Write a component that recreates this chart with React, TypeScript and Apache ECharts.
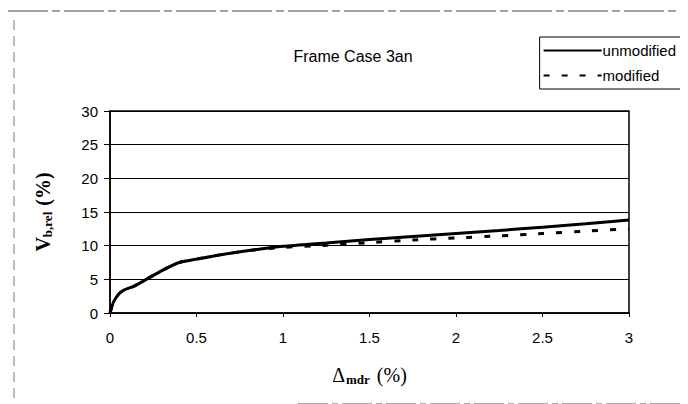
import React, { useEffect, useRef } from "react";
import * as echarts from "echarts";

// Roof drift ratio Δmdr (%) and relative base shear (%) shared by both runs up to ~0.85 %
const driftShared: number[] = [0, 0.02, 0.05, 0.08, 0.14, 0.21, 0.3, 0.4, 0.5, 0.65, 0.84];
const shearShared: number[] = [0, 1.6, 2.8, 3.4, 4.0, 5.0, 6.3, 7.5, 8.0, 8.7, 9.4];

// Beyond that the two runs separate
const driftTail: number[] = [1.0, 1.25, 1.5, 1.75, 2.0, 2.25, 2.5, 2.75, 3.0];
const unmodifiedTail: number[] = [9.9, 10.4, 10.9, 11.35, 11.8, 12.25, 12.75, 13.25, 13.8];
const modifiedTail: number[] = [9.75, 10.05, 10.45, 10.85, 11.15, 11.45, 11.8, 12.15, 12.5];

const xTicks: number[] = [0, 0.5, 1, 1.5, 2, 2.5, 3];
const yTicks: number[] = [0, 5, 10, 15, 20, 25, 30];

const pairs = (xs: number[], ys: number[]) => xs.map((x, i) => [x, ys[i]]);

export default function App() {
  const ref = useRef<HTMLDivElement>(null);

  useEffect(() => {
    if (!ref.current) return;
    const chart = echarts.init(ref.current, null, { renderer: "svg" });
    const sans = "Liberation Sans, Arial, sans-serif";
    const serif = "Liberation Serif, Times New Roman, serif";

    const unmodified = [...pairs(driftShared, shearShared), ...pairs(driftTail, unmodifiedTail)];
    const modified = [...pairs(driftShared, shearShared), ...pairs(driftTail, modifiedTail)];

    chart.setOption({
      animation: false,
      backgroundColor: "#fff",
      title: {
        text: "Frame Case 3an",
        left: 340,
        top: 35,
        textAlign: "center",
        textStyle: { fontFamily: sans, fontSize: 16, fontWeight: "normal", color: "#000" },
      },
      legend: {
        orient: "vertical",
        right: 14,
        top: 29,
        backgroundColor: "#fff",
        borderColor: "#000",
        borderWidth: 1,
        padding: [6, 6, 6, 3],
        itemGap: 10,
        itemWidth: 58,
        itemHeight: 14,
        itemStyle: { opacity: 0 },
        textStyle: { fontFamily: sans, fontSize: 15, lineHeight: 15, color: "#000", padding: [0, 0, 0, -4] },
        data: ["unmodified", "modified"],
      },
      grid: { left: 102, right: 67, top: 103, bottom: 99, show: true, borderColor: "#000", borderWidth: 1.5 },
      xAxis: {
        type: "value",
        min: 0,
        max: 3,
        interval: 0.5,
        name: "{d|Δ}{s|mdr}{p| (%)}",
        nameLocation: "middle",
        nameGap: 51,
        nameTextStyle: {
          rich: {
            d: { fontFamily: serif, fontSize: 20, color: "#000" },
            s: { fontFamily: serif, fontSize: 13, fontWeight: "bold", color: "#000", padding: [9, 2, 0, 1] },
            p: { fontFamily: serif, fontSize: 20, color: "#000" },
          },
        },
        axisLine: { show: true, lineStyle: { color: "#000", width: 1.5 } },
        axisTick: { show: true, inside: false, length: 4, lineStyle: { color: "#000" } },
        splitLine: { show: false },
        axisLabel: {
          fontFamily: sans,
          fontSize: 15,
          color: "#000",
          margin: 17,
          formatter: (v: number) => (xTicks.includes(v) ? String(v) : ""),
        },
      },
      yAxis: {
        type: "value",
        min: 0,
        max: 30,
        interval: 5,
        name: "{v|V}{s|b,rel}{p| (%)}",
        nameLocation: "middle",
        nameRotate: 90,
        nameGap: 56,
        nameTextStyle: {
          rich: {
            v: { fontFamily: serif, fontSize: 20, fontWeight: "bold", color: "#000" },
            s: { fontFamily: serif, fontSize: 13, fontWeight: "bold", color: "#000", padding: [9, 1, 0, 0] },
            p: { fontFamily: serif, fontSize: 20, fontWeight: "bold", color: "#000" },
          },
        },
        axisLine: { show: true, lineStyle: { color: "#000", width: 1.5 } },
        axisTick: { show: true, inside: false, length: 6, lineStyle: { color: "#000" } },
        splitLine: { show: true, lineStyle: { color: "#000", width: 1 } },
        axisLabel: {
          fontFamily: sans,
          fontSize: 15,
          color: "#000",
          margin: 12,
          formatter: (v: number) => (yTicks.includes(v) ? String(v) : ""),
        },
      },
      series: [
        {
          name: "unmodified",
          type: "line",
          data: unmodified,
          symbol: "none",
          smooth: 0.2,
          lineStyle: { color: "#000", width: 3 },
          itemStyle: { color: "#000" },
          z: 3,
        },
        {
          name: "modified",
          type: "line",
          data: modified,
          symbol: "none",
          smooth: 0.2,
          lineStyle: { color: "#000", width: 3, type: [6, 12] },
          itemStyle: { color: "#000" },
          z: 2,
        },
      ],
      graphic: [
        {
          type: "line",
          shape: { x1: 0, y1: 3, x2: 688, y2: 3 },
          style: { stroke: "#444", lineWidth: 1.2, lineDash: [40, 4, 8, 4] },
          silent: true,
        },
        {
          type: "line",
          shape: { x1: 6, y1: 12, x2: 6, y2: 400 },
          style: { stroke: "#777", lineWidth: 1, lineDash: [10, 6] },
          silent: true,
        },
        {
          type: "line",
          shape: { x1: 290, y1: 396, x2: 688, y2: 396 },
          style: { stroke: "#555", lineWidth: 1, lineDash: [30, 4, 6, 4] },
          silent: true,
        },
      ],
    });

    return () => chart.dispose();
  }, []);

  return <div ref={ref} style={{ width: 688, height: 404 }} />;
}
